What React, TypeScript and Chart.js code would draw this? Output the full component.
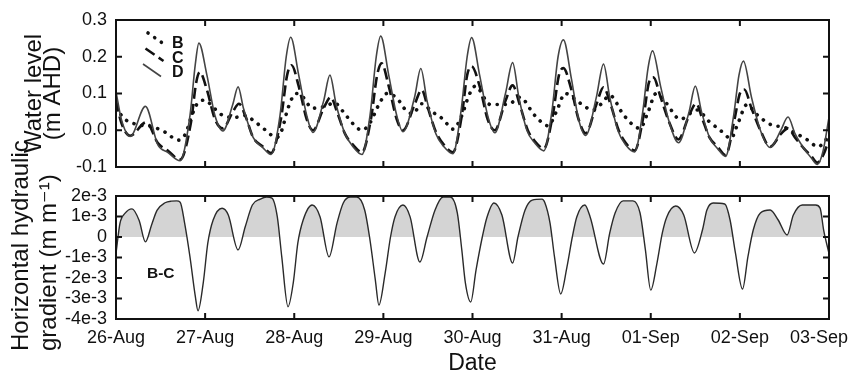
import { useEffect, useRef } from 'react';
import { Chart, registerables } from 'chart.js';

Chart.register(...registerables);

// ---------- data (time in days since 26-Aug 00:00) ----------
const dateLabels = ['26-Aug', '27-Aug', '28-Aug', '29-Aug', '30-Aug', '31-Aug', '01-Sep', '02-Sep', '03-Sep'];

const dTime = [0.00, 0.06, 0.16, 0.33, 0.47, 0.58, 0.72, 0.83, 0.89, 0.93, 1.02, 1.11, 1.20, 1.31, 1.37, 1.43, 1.54, 1.65, 1.74, 1.84, 1.91, 1.96, 2.05, 2.14, 2.21, 2.33, 2.40, 2.47, 2.57, 2.66, 2.76, 2.85, 2.92, 2.97, 3.06, 3.15, 3.22, 3.35, 3.42, 3.49, 3.59, 3.68, 3.78, 3.87, 3.94, 3.99, 4.08, 4.17, 4.25, 4.37, 4.45, 4.52, 4.61, 4.70, 4.80, 4.89, 4.96, 5.02, 5.11, 5.19, 5.27, 5.39, 5.47, 5.54, 5.63, 5.72, 5.82, 5.91, 5.97, 6.02, 6.11, 6.21, 6.31, 6.43, 6.50, 6.57, 6.66, 6.75, 6.84, 6.93, 6.99, 7.04, 7.13, 7.23, 7.34, 7.46, 7.54, 7.62, 7.72, 7.80, 7.87, 7.93, 8.00];
const dLevel = [0.105, 0.03, -0.017, 0.065, -0.04, -0.06, -0.083, 0.04, 0.18, 0.237, 0.15, 0.04, -0.002, 0.07, 0.118, 0.06, -0.02, -0.048, -0.066, 0.04, 0.2, 0.253, 0.15, 0.04, -0.006, 0.08, 0.15, 0.07, -0.01, -0.045, -0.066, 0.04, 0.2, 0.256, 0.15, 0.04, -0.004, 0.09, 0.168, 0.08, -0.01, -0.045, -0.064, 0.05, 0.2, 0.252, 0.15, 0.04, -0.007, 0.1, 0.184, 0.09, 0.0, -0.035, -0.056, 0.05, 0.2, 0.246, 0.14, 0.03, -0.014, 0.09, 0.18, 0.09, 0.0, -0.04, -0.059, 0.05, 0.17, 0.216, 0.12, 0.02, -0.034, 0.05, 0.12, 0.05, -0.02, -0.05, -0.071, 0.04, 0.15, 0.188, 0.09, 0.0, -0.047, 0.0, 0.036, -0.01, -0.05, -0.075, -0.093, -0.06, 0.035];

const cTime = [0.00, 0.06, 0.16, 0.34, 0.47, 0.58, 0.72, 0.84, 0.90, 0.94, 1.02, 1.11, 1.20, 1.31, 1.38, 1.45, 1.54, 1.65, 1.74, 1.85, 1.92, 1.97, 2.05, 2.14, 2.21, 2.33, 2.41, 2.48, 2.57, 2.66, 2.76, 2.86, 2.93, 2.98, 3.06, 3.15, 3.22, 3.35, 3.43, 3.50, 3.59, 3.68, 3.78, 3.88, 3.94, 3.99, 4.08, 4.17, 4.25, 4.37, 4.45, 4.53, 4.62, 4.70, 4.80, 4.90, 4.97, 5.02, 5.11, 5.19, 5.27, 5.39, 5.47, 5.55, 5.64, 5.72, 5.82, 5.92, 5.98, 6.03, 6.11, 6.21, 6.31, 6.43, 6.51, 6.58, 6.66, 6.75, 6.84, 6.94, 7.00, 7.05, 7.13, 7.23, 7.34, 7.46, 7.54, 7.62, 7.72, 7.80, 7.87, 7.94, 8.00];
const cLevel = [0.08, 0.02, -0.015, 0.022, -0.035, -0.055, -0.08, 0.02, 0.13, 0.158, 0.11, 0.03, 0.005, 0.05, 0.072, 0.04, -0.02, -0.045, -0.062, 0.03, 0.15, 0.177, 0.12, 0.03, 0.0, 0.06, 0.09, 0.05, -0.01, -0.04, -0.06, 0.03, 0.15, 0.182, 0.12, 0.03, 0.0, 0.07, 0.11, 0.06, -0.005, -0.04, -0.06, 0.04, 0.15, 0.174, 0.12, 0.03, 0.0, 0.08, 0.122, 0.07, 0.0, -0.03, -0.05, 0.04, 0.15, 0.169, 0.11, 0.03, -0.008, 0.07, 0.117, 0.07, 0.0, -0.035, -0.055, 0.04, 0.13, 0.144, 0.09, 0.02, -0.025, 0.04, 0.073, 0.03, -0.02, -0.045, -0.068, 0.03, 0.1, 0.111, 0.06, 0.0, -0.045, -0.01, 0.005, -0.02, -0.05, -0.07, -0.088, -0.065, -0.025];

const bTime = [0.00, 0.10, 0.25, 0.40, 0.55, 0.70, 0.78, 0.85, 0.92, 1.00, 1.08, 1.20, 1.33, 1.45, 1.55, 1.68, 1.80, 1.86, 1.93, 2.02, 2.10, 2.20, 2.35, 2.45, 2.55, 2.65, 2.76, 2.85, 2.95, 3.04, 3.15, 3.25, 3.33, 3.43, 3.55, 3.67, 3.78, 3.88, 3.96, 4.03, 4.20, 4.40, 4.53, 4.70, 4.85, 4.94, 5.04, 5.20, 5.35, 5.45, 5.54, 5.70, 5.88, 5.97, 6.06, 6.17, 6.33, 6.52, 6.65, 6.78, 6.90, 6.98, 7.08, 7.18, 7.35, 7.50, 7.60, 7.75, 7.88, 7.95, 8.00];
const bLevel = [0.06, 0.03, 0.015, 0.01, -0.005, -0.027, -0.01, 0.04, 0.075, 0.082, 0.065, 0.04, 0.035, 0.04, 0.025, 0.0, -0.02, 0.0, 0.06, 0.1, 0.09, 0.06, 0.065, 0.075, 0.05, 0.02, 0.0, 0.02, 0.07, 0.1, 0.088, 0.055, 0.045, 0.072, 0.05, 0.03, 0.003, 0.04, 0.095, 0.12, 0.07, 0.07, 0.09, 0.04, 0.012, 0.05, 0.1, 0.075, 0.055, 0.073, 0.095, 0.04, 0.005, 0.05, 0.1, 0.075, 0.03, 0.055, 0.025, 0.0, -0.022, 0.02, 0.07, 0.045, 0.015, 0.008, -0.005, -0.025, -0.045, -0.03, -0.015];

// horizontal hydraulic gradient B-C, in units of 1e-3 m/m
const gTime = [0.00, 0.045, 0.10, 0.18, 0.26, 0.33, 0.40, 0.46, 0.55, 0.62, 0.68, 0.72, 0.77, 0.83, 0.89, 0.92, 0.98, 1.03, 1.09, 1.19, 1.26, 1.37, 1.45, 1.53, 1.62, 1.69, 1.75, 1.81, 1.86, 1.93, 1.99, 2.04, 2.10, 2.20, 2.29, 2.39, 2.48, 2.55, 2.63, 2.70, 2.79, 2.85, 2.91, 2.95, 3.02, 3.08, 3.13, 3.22, 3.30, 3.41, 3.49, 3.58, 3.67, 3.75, 3.83, 3.88, 3.92, 3.98, 4.04, 4.11, 4.16, 4.24, 4.33, 4.45, 4.51, 4.59, 4.67, 4.78, 4.81, 4.87, 4.92, 4.99, 5.06, 5.12, 5.17, 5.26, 5.32, 5.47, 5.54, 5.60, 5.69, 5.80, 5.88, 5.94, 6.00, 6.07, 6.13, 6.18, 6.28, 6.37, 6.49, 6.58, 6.63, 6.70, 6.83, 6.89, 6.95, 7.03, 7.09, 7.15, 7.23, 7.34, 7.43, 7.53, 7.60, 7.70, 7.85, 7.90, 7.94, 8.00];
const gValue = [-0.8, 0.68, 1.15, 1.37, 0.8, -0.24, 0.6, 1.3, 1.67, 1.75, 1.76, 1.7, 0.68, -0.97, -2.9, -3.6, -2.2, -0.3, 0.83, 1.4, 1.07, -0.63, 0.5, 1.56, 1.85, 1.95, 1.9, 0.98, -0.97, -3.4, -2.2, -0.3, 0.83, 1.56, 0.98, -0.97, 0.68, 1.66, 1.95, 1.95, 1.32, -0.15, -2.1, -3.32, -1.76, 0.0, 0.98, 1.56, 0.98, -1.22, 0.0, 1.32, 1.95, 1.95, 1.17, -0.63, -2.24, -3.17, -1.6, 0.0, 0.93, 1.66, 1.07, -1.27, 0.0, 1.32, 1.8, 1.85, 1.7, 0.68, -0.97, -2.78, -1.46, 0.0, 0.98, 1.56, 0.98, -1.32, 0.2, 1.17, 1.76, 1.76, 1.17, -0.63, -2.59, -1.27, 0.2, 0.98, 1.51, 1.07, -0.78, 0.34, 1.32, 1.66, 1.61, 0.83, -0.78, -2.54, -0.97, 0.34, 1.17, 1.32, 0.83, 0.1, 1.07, 1.56, 1.56, 1.41, 0.34, -0.8];

const FONT = '"Liberation Sans", Arial, "DejaVu Sans", sans-serif';
const INK = '#111111';

const pts = (t: number[], v: number[]) => t.map((x, i) => ({ x, y: v[i] }));

// inward tick marks + frame + legend / labels
const framePlugin = {
  id: 'frameTicks',
  afterDatasetsDraw(chart: any, _args: any, opts: any) {
    const { ctx, chartArea: a, scales } = chart;
    ctx.save();
    ctx.strokeStyle = INK;
    ctx.lineWidth = 2;
    const len = 6;
    scales.x.ticks.forEach((t: any) => {
      const px = scales.x.getPixelForValue(t.value);
      if (px <= a.left + 1 || px >= a.right - 1) return;
      ctx.beginPath();
      ctx.moveTo(px, a.top); ctx.lineTo(px, a.top + len);
      ctx.moveTo(px, a.bottom); ctx.lineTo(px, a.bottom - len);
      ctx.stroke();
    });
    scales.y.ticks.forEach((t: any) => {
      const py = scales.y.getPixelForValue(t.value);
      if (py <= a.top + 1 || py >= a.bottom - 1) return;
      ctx.beginPath();
      ctx.moveTo(a.left, py); ctx.lineTo(a.left + len, py);
      ctx.moveTo(a.right, py); ctx.lineTo(a.right - len, py);
      ctx.stroke();
    });
    ctx.strokeRect(a.left, a.top, a.right - a.left, a.bottom - a.top);

    if (opts.legend) {
      const order = ['B', 'C', 'D'];
      order.forEach((lab, i) => {
        const ds = chart.data.datasets.find((d: any) => d.label === lab);
        if (!ds) return;
        const x0 = a.left + 32 - 2.5 * i;
        const y0 = a.top + 13 + 15.5 * i;
        ctx.save();
        ctx.strokeStyle = ds.borderColor;
        ctx.lineWidth = ds.borderWidth;
        ctx.setLineDash(ds.borderDash || []);
        ctx.lineCap = ds.borderCapStyle || 'butt';
        ctx.beginPath();
        ctx.moveTo(x0, y0);
        ctx.lineTo(x0 + 18, y0 + 12.5);
        ctx.stroke();
        ctx.restore();
        ctx.fillStyle = INK;
        ctx.font = 'bold 16px ' + FONT;
        ctx.textAlign = 'left';
        ctx.textBaseline = 'middle';
        ctx.fillText(lab, a.left + 56, a.top + 24 + 14.5 * i);
      });
    }
    if (opts.note) {
      ctx.fillStyle = INK;
      ctx.font = 'bold 15.5px ' + FONT;
      ctx.textAlign = 'left';
      ctx.textBaseline = 'middle';
      ctx.fillText(opts.note, a.left + 31, a.top + 78);
    }
    if (opts.sideTitle) {
      ctx.fillStyle = INK;
      ctx.font = '24px ' + FONT;
      ctx.textAlign = 'left';
      ctx.textBaseline = 'alphabetic';
      opts.sideTitle.forEach((line: string, i: number) => {
        ctx.save();
        ctx.translate(28 + 28 * i, 351);
        ctx.rotate(-Math.PI / 2);
        ctx.fillText(line, 0, 0);
        ctx.restore();
      });
    }
    ctx.restore();
  },
};

export default function App() {
  const topRef = useRef<HTMLCanvasElement>(null);
  const botRef = useRef<HTMLCanvasElement>(null);

  useEffect(() => {
    const tickFont = { family: FONT, size: 18 };
    const top = new Chart(topRef.current as HTMLCanvasElement, {
      type: 'line',
      data: {
        datasets: [
          { label: 'D', data: pts(dTime, dLevel), borderColor: '#444444', borderWidth: 1.6, pointRadius: 0, cubicInterpolationMode: 'monotone', fill: false },
          { label: 'C', data: pts(cTime, cLevel), borderColor: '#111111', borderWidth: 2.6, borderDash: [11, 5], pointRadius: 0, cubicInterpolationMode: 'monotone', fill: false },
          { label: 'B', data: pts(bTime, bLevel), borderColor: '#111111', borderWidth: 3.6, borderDash: [0.1, 8], borderCapStyle: 'round', pointRadius: 0, cubicInterpolationMode: 'monotone', fill: false },
        ],
      } as any,
      options: {
        animation: false,
        responsive: false,
        layout: { padding: { left: 20, top: 20, right: 24, bottom: 207 } },
        plugins: { legend: { display: false }, tooltip: { enabled: false }, frameTicks: { legend: true } } as any,
        scales: {
          x: {
            type: 'linear', min: 0, max: 8,
            ticks: { display: false, stepSize: 1 },
            grid: { display: false, drawTicks: false },
            border: { display: false },
            afterFit: (s: any) => { s.height = 0; s.paddingLeft = 0; s.paddingRight = 0; },
          },
          y: {
            min: -0.1, max: 0.3,
            ticks: { stepSize: 0.1, autoSkip: false, padding: 9, color: INK, font: tickFont, callback: (v: any) => Number(v).toFixed(1) },
            grid: { display: false, drawTicks: false },
            border: { display: false },
            title: { display: true, text: ['Water level', '(m AHD)'], color: INK, font: { family: FONT, size: 24, lineHeight: 0.8 }, padding: { top: 5, bottom: 0 } },
            afterFit: (s: any) => { s.width = 96; },
          },
        },
      } as any,
      plugins: [framePlugin],
    });

    const bot = new Chart(botRef.current as HTMLCanvasElement, {
      type: 'line',
      data: {
        datasets: [
          {
            label: 'B-C', data: pts(gTime, gValue), borderColor: '#2a2a2a', borderWidth: 1.4, pointRadius: 0,
            cubicInterpolationMode: 'monotone',
            fill: { target: { value: 0 }, above: '#d4d4d4', below: 'rgba(0,0,0,0)' },
          },
        ],
      } as any,
      options: {
        animation: false,
        responsive: false,
        layout: { padding: { left: 2, top: 196, right: 24, bottom: 0 } },
        plugins: {
          legend: { display: false }, tooltip: { enabled: false }, filler: { propagate: false },
          frameTicks: { note: 'B-C', sideTitle: ['Horizontal hydraulic', 'gradient (m m\u207B\u00B9)'] },
        } as any,
        scales: {
          x: {
            type: 'linear', min: 0, max: 8,
            ticks: {
              stepSize: 1, autoSkip: false, maxRotation: 0, minRotation: 0, padding: 8, color: INK, font: tickFont,
              callback: (v: any) => {
                const i = Math.round(Number(v));
                return i === dateLabels.length - 1 ? dateLabels[i] + '\u00A0\u00A0\u00A0\u00A0' : dateLabels[i];
              },
            },
            grid: { display: false, drawTicks: false },
            border: { display: false },
            title: { display: true, text: 'Date', color: INK, font: { family: FONT, size: 23, lineHeight: 0.9 }, padding: { top: 0, bottom: 0 } },
            afterFit: (s: any) => { s.height = 55; s.paddingLeft = 0; s.paddingRight = 0; },
          },
          y: {
            min: -4, max: 2,
            ticks: { stepSize: 1, autoSkip: false, padding: 9, color: INK, font: tickFont, callback: (v: any) => (Number(v) === 0 ? '0' : `${v}e-3`) },
            grid: { display: false, drawTicks: false },
            border: { display: false },
            afterFit: (s: any) => { s.width = 114; s.paddingTop = 0; s.paddingBottom = 0; },
          },
        },
      } as any,
      plugins: [framePlugin],
    });

    return () => { top.destroy(); bot.destroy(); };
  }, []);

  return (
    <div style={{ position: 'absolute', left: 0, top: 0, width: 853, height: 374, background: '#fff', overflow: 'hidden' }}>
      <canvas ref={botRef} width={853} height={374} style={{ position: 'absolute', left: 0, top: 0 }} />
      <canvas ref={topRef} width={853} height={374} style={{ position: 'absolute', left: 0, top: 0 }} />
    </div>
  );
}
